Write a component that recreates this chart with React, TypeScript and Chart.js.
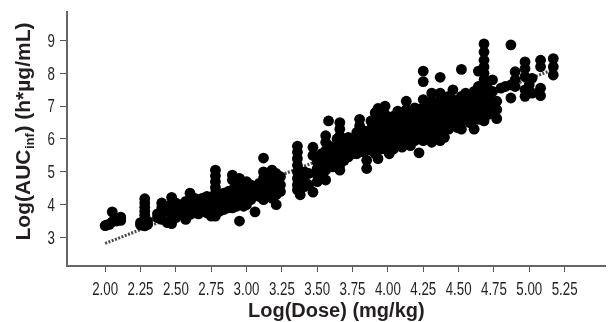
import React, { useEffect, useRef } from "react";
import { Chart, registerables } from "chart.js";

Chart.register(...registerables);

// Tick labels
const xTicks = [2.0, 2.25, 2.5, 2.75, 3.0, 3.25, 3.5, 3.75, 4.0, 4.25, 4.5, 4.75, 5.0, 5.25];
const yTicks = [3, 4, 5, 6, 7, 8, 9];

// Fitted line (log dose vs log AUC)
const fitDose = [2.0, 5.16];
const fitAuc = [2.82, 8.1];

const lowDose: [number, number][] = [
  [2.0, 3.36], [2.01, 3.38], [2.03, 3.4], [2.05, 3.78], [2.05, 3.48], [2.08, 3.5],
  [2.11, 3.58], [2.11, 3.62], [2.11, 3.52],
  [2.25, 3.45], [2.25, 3.38],
  [2.28, 4.18], [2.28, 4.05], [2.28, 3.92], [2.28, 3.8], [2.28, 3.68], [2.28, 3.55], [2.28, 3.45], [2.28, 3.35],
  [2.3, 3.5], [2.3, 3.4], [2.37, 3.72], [2.37, 3.6],
  [2.4, 4.05], [2.4, 3.9], [2.4, 3.75], [2.4, 3.55],
  [2.44, 3.95], [2.44, 3.8], [2.44, 3.45],
  [2.47, 4.22], [2.47, 4.0], [2.47, 3.85], [2.47, 3.65], [2.47, 3.42],
  [2.5, 4.05], [2.5, 3.9], [2.5, 3.75], [2.5, 3.6],
  [2.54, 4.0], [2.54, 3.85], [2.54, 3.7],
  [2.57, 4.1], [2.57, 3.9], [2.57, 3.55],
  [2.6, 4.35], [2.6, 4.15], [2.6, 4.0], [2.6, 3.85], [2.6, 3.7],
  [2.63, 4.2], [2.63, 4.05], [2.63, 3.9], [2.63, 3.75],
  [2.66, 4.15], [2.66, 3.95], [2.66, 3.8], [2.66, 3.72],
  [2.69, 4.2], [2.69, 4.0], [2.69, 3.85],
  [2.72, 4.25], [2.72, 4.05], [2.72, 3.9], [2.72, 3.75],
  [2.75, 4.2], [2.75, 4.05], [2.75, 3.85], [2.75, 3.65],
  [2.78, 5.05], [2.78, 4.88], [2.78, 4.7], [2.78, 4.52], [2.78, 4.35], [2.78, 4.18], [2.78, 4.0], [2.78, 3.82], [2.78, 3.65],
  [2.81, 4.3], [2.81, 4.1], [2.81, 3.95], [2.81, 3.8],
  [2.84, 4.35], [2.84, 4.15], [2.84, 3.98], [2.84, 3.85],
  [2.87, 4.4], [2.87, 4.2], [2.87, 4.05], [2.87, 3.9],
  [2.9, 4.9], [2.9, 4.75], [2.9, 4.45], [2.9, 4.25], [2.9, 4.05], [2.9, 3.9],
  [2.93, 4.55], [2.93, 4.3], [2.93, 4.1], [2.93, 3.95],
  [2.95, 4.8], [2.95, 4.4], [2.95, 3.5],
  [2.98, 4.5], [2.98, 4.3], [2.98, 4.1], [2.98, 3.95],
  [3.0, 4.7], [3.0, 4.45], [3.0, 4.2], [3.0, 4.0],
  [3.03, 4.6], [3.03, 4.35], [3.03, 4.15],
  [3.06, 4.5], [3.06, 4.3], [3.06, 3.78],
  [3.09, 4.65], [3.09, 4.4], [3.09, 4.25],
  [3.12, 5.42], [3.12, 5.0], [3.12, 4.8], [3.12, 4.55], [3.12, 4.35], [3.12, 4.15],
  [3.15, 4.9], [3.15, 4.65], [3.15, 4.45], [3.15, 4.25],
  [3.18, 5.05], [3.18, 4.8], [3.18, 4.6], [3.18, 4.4], [3.18, 4.2],
  [3.21, 4.95], [3.21, 4.7], [3.21, 4.5], [3.21, 4.3], [3.21, 4.0],
  [3.24, 4.85], [3.24, 4.6], [3.24, 4.4],
];

const midDose: [number, number][] = [
  [3.36, 5.78], [3.36, 5.6], [3.36, 5.4], [3.36, 5.2], [3.36, 5.0], [3.36, 4.8], [3.36, 4.6], [3.36, 4.45],
  [3.38, 4.3], [3.38, 4.5], [3.38, 4.7],
  [3.41, 4.55], [3.41, 4.75], [3.41, 5.0],
  [3.44, 4.95], [3.44, 4.6],
  [3.47, 4.38], [3.47, 5.75], [3.47, 5.5],
  [3.5, 5.3], [3.5, 5.1], [3.5, 4.9], [3.5, 4.7],
  [3.53, 5.55], [3.53, 5.35], [3.53, 5.15], [3.53, 4.95],
  [3.56, 6.1], [3.56, 5.9], [3.56, 5.65], [3.56, 5.45], [3.56, 5.25], [3.56, 5.05], [3.56, 4.75],
  [3.58, 6.55], [3.58, 5.8], [3.58, 5.5],
  [3.61, 5.75], [3.61, 5.55], [3.61, 5.35], [3.61, 5.15],
  [3.64, 6.0], [3.64, 5.75], [3.64, 5.55], [3.64, 5.35],
  [3.66, 6.5], [3.66, 6.3], [3.66, 6.1], [3.66, 5.9], [3.66, 5.65], [3.66, 5.4], [3.66, 5.2], [3.66, 5.05],
  [3.69, 5.95], [3.69, 5.75], [3.69, 5.55], [3.69, 5.35],
  [3.72, 6.05], [3.72, 5.85], [3.72, 5.65], [3.72, 5.45],
  [3.75, 5.95], [3.75, 5.75], [3.75, 5.55],
  [3.78, 6.2], [3.78, 5.95], [3.78, 5.75], [3.78, 5.55],
  [3.8, 6.6], [3.8, 6.4], [3.8, 6.15],
  [3.83, 6.25], [3.83, 6.0], [3.83, 5.8], [3.83, 5.6],
  [3.85, 5.1], [3.85, 5.35],
  [3.88, 6.55], [3.88, 6.3], [3.88, 6.1], [3.88, 5.85], [3.88, 5.65],
  [3.91, 6.8], [3.91, 6.5], [3.91, 6.25], [3.91, 6.0], [3.91, 5.8], [3.91, 5.55],
  [3.93, 6.93], [3.93, 6.7], [3.93, 5.4],
  [3.96, 6.6], [3.96, 6.35], [3.96, 6.1], [3.96, 5.9], [3.96, 5.7],
  [3.98, 7.0], [3.98, 6.75],
  [4.01, 6.5], [4.01, 6.25], [4.01, 6.05], [4.01, 5.8], [4.01, 5.55],
  [4.04, 6.7], [4.04, 6.45], [4.04, 6.2], [4.04, 5.95], [4.04, 5.7],
  [4.07, 6.85], [4.07, 6.6], [4.07, 6.35], [4.07, 6.1], [4.07, 5.85],
  [4.1, 6.75], [4.1, 6.5], [4.1, 6.25], [4.1, 6.0], [4.1, 5.75],
  [4.13, 7.15], [4.13, 6.9], [4.13, 6.6], [4.13, 6.35], [4.13, 6.1], [4.13, 5.85],
  [4.16, 6.8], [4.16, 6.55], [4.16, 6.3], [4.16, 6.05], [4.16, 5.8],
  [4.19, 6.95], [4.19, 6.7], [4.19, 6.45], [4.19, 6.2], [4.19, 5.95],
  [4.22, 6.9], [4.22, 6.6], [4.22, 6.35], [4.22, 6.1], [4.22, 5.58],
];

const highDose: [number, number][] = [
  [4.25, 8.07], [4.25, 7.75], [4.25, 7.2], [4.25, 6.95], [4.25, 6.7], [4.25, 6.45], [4.25, 6.2], [4.25, 5.95],
  [4.28, 7.05], [4.28, 6.8], [4.28, 6.55], [4.28, 6.3], [4.28, 6.05],
  [4.31, 7.4], [4.31, 7.15], [4.31, 6.9], [4.31, 6.65], [4.31, 6.4], [4.31, 6.15], [4.31, 5.9],
  [4.34, 7.1], [4.34, 6.85], [4.34, 6.6], [4.34, 6.35], [4.34, 6.1],
  [4.37, 7.88], [4.37, 7.4], [4.37, 7.2], [4.37, 6.95], [4.37, 6.7], [4.37, 6.45], [4.37, 6.2], [4.37, 5.95],
  [4.4, 7.05], [4.4, 6.8], [4.4, 6.55], [4.4, 6.3], [4.4, 6.05],
  [4.43, 7.3], [4.43, 7.05], [4.43, 6.8], [4.43, 6.55], [4.43, 6.3],
  [4.46, 7.5], [4.46, 7.2], [4.46, 6.95], [4.46, 6.7], [4.46, 6.45],
  [4.49, 7.15], [4.49, 6.9], [4.49, 6.65], [4.49, 6.35],
  [4.52, 8.12], [4.52, 7.3], [4.52, 7.05], [4.52, 6.8], [4.52, 6.55], [4.52, 6.3],
  [4.55, 7.4], [4.55, 7.15], [4.55, 6.9], [4.55, 6.6],
  [4.58, 7.25], [4.58, 7.0], [4.58, 6.75], [4.58, 6.5],
  [4.61, 7.45], [4.61, 7.2], [4.61, 6.95], [4.61, 6.3],
  [4.64, 8.07], [4.64, 7.6], [4.64, 7.35], [4.64, 7.1], [4.64, 6.85], [4.64, 6.6],
  [4.68, 8.9], [4.68, 8.65], [4.68, 8.4], [4.68, 8.2], [4.68, 8.0], [4.68, 7.8], [4.68, 7.6], [4.68, 7.4],
  [4.68, 7.2], [4.68, 7.0], [4.68, 6.8], [4.68, 6.55],
  [4.71, 7.75], [4.71, 7.5], [4.71, 7.25], [4.71, 7.0], [4.71, 6.75],
  [4.74, 7.8], [4.74, 7.45], [4.74, 7.15], [4.74, 6.9],
  [4.77, 7.15], [4.77, 6.9], [4.77, 6.62],
  [4.8, 7.55], [4.83, 7.6],
  [4.87, 8.87], [4.87, 7.25], [4.87, 7.65],
  [4.9, 8.05], [4.9, 7.8], [4.9, 7.6],
  [4.97, 8.35], [4.97, 8.15], [4.97, 7.9], [4.97, 7.5], [4.97, 7.3],
  [5.0, 7.65], [5.02, 7.85], [5.02, 7.4],
  [5.08, 8.4], [5.08, 8.2], [5.08, 7.55], [5.08, 7.32],
  [5.17, 8.45], [5.17, 8.2], [5.17, 7.95],
];

const TEXT = "#231f20";
const FONT = '"Liberation Sans", Arial, Helvetica, sans-serif';
const CONDENSE = 0.7;

// Draws condensed tick labels at the scales' own tick positions, and the axis titles
const axisText = {
  id: "axisText",
  afterDraw(chart: any) {
    const ctx = chart.ctx as CanvasRenderingContext2D;
    const ca = chart.chartArea;
    const xs = chart.scales.x;
    const ys = chart.scales.y;
    ctx.save();
    ctx.fillStyle = TEXT;
    ctx.font = `19px ${FONT}`;

    // x tick labels
    ctx.textAlign = "center";
    ctx.textBaseline = "alphabetic";
    xs.ticks.forEach((t: any) => {
      const px = xs.getPixelForValue(t.value);
      ctx.save();
      ctx.translate(px, 295);
      ctx.scale(CONDENSE, 1);
      ctx.fillText(Number(t.value).toFixed(2), 0, 0);
      ctx.restore();
    });

    // y tick labels
    ctx.textAlign = "right";
    ctx.textBaseline = "middle";
    ys.ticks.forEach((t: any) => {
      const py = ys.getPixelForValue(t.value);
      ctx.save();
      ctx.translate(55, py + 1);
      ctx.scale(CONDENSE, 1);
      ctx.fillText(String(t.value), 0, 0);
      ctx.restore();
    });

    // x title
    ctx.font = `bold 20px ${FONT}`;
    ctx.textAlign = "center";
    ctx.textBaseline = "alphabetic";
    ctx.fillText("Log(Dose) (mg/kg)", (ca.left + ca.right) / 2, 317);

    // y title with subscript
    const p1 = "Log(AUC";
    const sub = "inf";
    const p2 = ") (h*µg/mL)";
    const bigFont = `bold 21px ${FONT}`;
    const smallFont = `bold 13px ${FONT}`;
    ctx.font = bigFont;
    const w1 = ctx.measureText(p1).width;
    const w3 = ctx.measureText(p2).width;
    ctx.font = smallFont;
    const w2 = ctx.measureText(sub).width;
    const total = w1 + w2 + w3;
    ctx.translate(24, 132);
    ctx.rotate(-Math.PI / 2);
    ctx.textAlign = "left";
    const start = -total / 2;
    const base = 6;
    ctx.font = bigFont;
    ctx.fillText(p1, start, base);
    ctx.font = smallFont;
    ctx.fillText(sub, start + w1 + 0.5, base + 4);
    ctx.font = bigFont;
    ctx.fillText(p2, start + w1 + w2 + 1, base);
    ctx.restore();
  },
};

export default function App() {
  const ref = useRef<HTMLCanvasElement | null>(null);

  useEffect(() => {
    document.body.style.margin = "0";
    const canvas = ref.current;
    if (!canvas) return;
    const toPts = (arr: [number, number][]) => arr.map(([x, y]) => ({ x, y }));
    const dot = { backgroundColor: "#000", borderWidth: 0, pointRadius: 5.4, order: 1 };
    const chart = new Chart(canvas, {
      type: "scatter",
      data: {
        datasets: [
          {
            type: "line",
            label: "fit",
            data: fitDose.map((x, i) => ({ x, y: fitAuc[i] })),
            borderColor: "#4a4a4a",
            borderWidth: 3,
            borderDash: [2, 1.5],
            pointRadius: 0,
            fill: false,
            order: 2,
          } as any,
          { label: "low", data: toPts(lowDose), ...dot },
          { label: "mid", data: toPts(midDose), ...dot },
          { label: "high", data: toPts(highDose), ...dot },
        ],
      },
      options: {
        animation: false,
        responsive: false,
        layout: { padding: { top: 12, right: 0, left: 0, bottom: 0 } },
        plugins: { legend: { display: false }, tooltip: { enabled: false }, title: { display: false } },
        scales: {
          x: {
            type: "linear",
            min: 1.73,
            max: 5.54,
            afterBuildTicks: (s: any) => {
              s.ticks = xTicks.map((v) => ({ value: v }));
            },
            afterFit: (s: any) => {
              s.height = 56;
            },
            ticks: { display: false },
            grid: { drawOnChartArea: false, drawTicks: true, tickLength: 6, color: "#555", lineWidth: 1 },
            border: { display: true, color: "#666", width: 2 },
          },
          y: {
            type: "linear",
            min: 2.13,
            max: 9.87,
            afterBuildTicks: (s: any) => {
              s.ticks = yTicks.map((v) => ({ value: v }));
            },
            afterFit: (s: any) => {
              s.width = 67;
            },
            ticks: { display: false },
            grid: { drawOnChartArea: false, drawTicks: true, tickLength: 7, color: "#555", lineWidth: 1 },
            border: { display: true, color: "#666", width: 2 },
          },
        },
      },
      plugins: [axisText],
    });
    return () => chart.destroy();
  }, []);

  return (
    <div style={{ width: 611, height: 322, background: "#fff" }}>
      <canvas ref={ref} width={611} height={322} style={{ display: "block" }} />
    </div>
  );
}
